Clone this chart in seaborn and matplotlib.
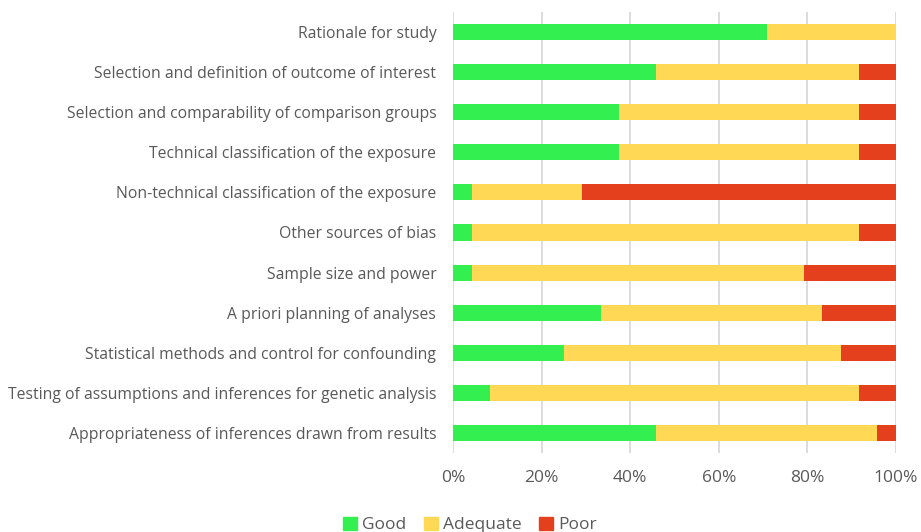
import numpy as np
import pandas as pd
import matplotlib
matplotlib.use("Agg")
import matplotlib.pyplot as plt
import seaborn as sns
from matplotlib.patches import Patch
from matplotlib.ticker import PercentFormatter

criteria = [
    "Rationale for study",
    "Selection and definition of outcome of interest",
    "Selection and comparability of comparison groups",
    "Technical classification of the exposure",
    "Non-technical classification of the exposure",
    "Other sources of bias",
    "Sample size and power",
    "A priori planning of analyses",
    "Statistical methods and control for confounding",
    "Testing of assumptions and inferences for genetic analysis",
    "Appropriateness of inferences drawn from results",
]
# share of studies (%) rated in each category
good = [70.8, 45.8, 37.5, 37.5, 4.2, 4.2, 4.2, 33.3, 25.0, 8.3, 45.8]
adequate = [29.2, 45.9, 54.2, 54.2, 25.0, 87.5, 75.0, 50.0, 62.5, 83.4, 50.0]
poor = [0.0, 8.3, 8.3, 8.3, 70.8, 8.3, 20.8, 16.7, 12.5, 8.3, 4.2]

colors = {"Good": "#33F050", "Adequate": "#FFD955", "Poor": "#E5401E"}
text_color = "#595959"

df = pd.DataFrame({"criterion": criteria, "Good": good,
                   "Adequate": adequate, "Poor": poor})
df["c_good"] = df["Good"]
df["c_adequate"] = df["Good"] + df["Adequate"]
df["c_poor"] = df["c_adequate"] + df["Poor"]

sns.set_style("white")
plt.rcParams["font.family"] = ["Open Sans", "DejaVu Sans"]

fig = plt.figure(figsize=(9.21, 5.32), dpi=100)
ax = fig.add_axes([453 / 921, 1 - 453 / 532, 443 / 921, 441 / 532])

# stacked bars: draw cumulative totals back to front
for col, name in [("c_poor", "Poor"), ("c_adequate", "Adequate"), ("c_good", "Good")]:
    sns.barplot(data=df, x=col, y="criterion", orient="h", color=colors[name],
                width=0.4, saturation=1, ax=ax, linewidth=0)

ax.set_xlim(0, 100)
ax.set_ylim(10.5, -0.5)
ax.set_xticks(np.arange(0, 101, 20))
ax.xaxis.set_major_formatter(PercentFormatter(decimals=0))
ax.grid(axis="x", color="#D9D9D9", linewidth=1.3)
ax.set_axisbelow(True)
for s in ax.spines.values():
    s.set_visible(False)
ax.set_xlabel("")
ax.set_ylabel("")
ax.tick_params(axis="x", length=0, pad=12, labelsize=12.5, labelcolor=text_color)
ax.tick_params(axis="y", length=0, pad=12, labelsize=11.3, labelcolor=text_color)

handles = [Patch(color=colors[k]) for k in ["Good", "Adequate", "Poor"]]
fig.legend(handles, ["Good", "Adequate", "Poor"], loc="center",
           bbox_to_anchor=(470 / 921, 1 - 525 / 532), ncol=3, frameon=False,
           fontsize=12.5, labelcolor=text_color, handlelength=0.8,
           handleheight=0.8, handletextpad=0.3, columnspacing=1.0)

fig.savefig("out.png", dpi=100)
